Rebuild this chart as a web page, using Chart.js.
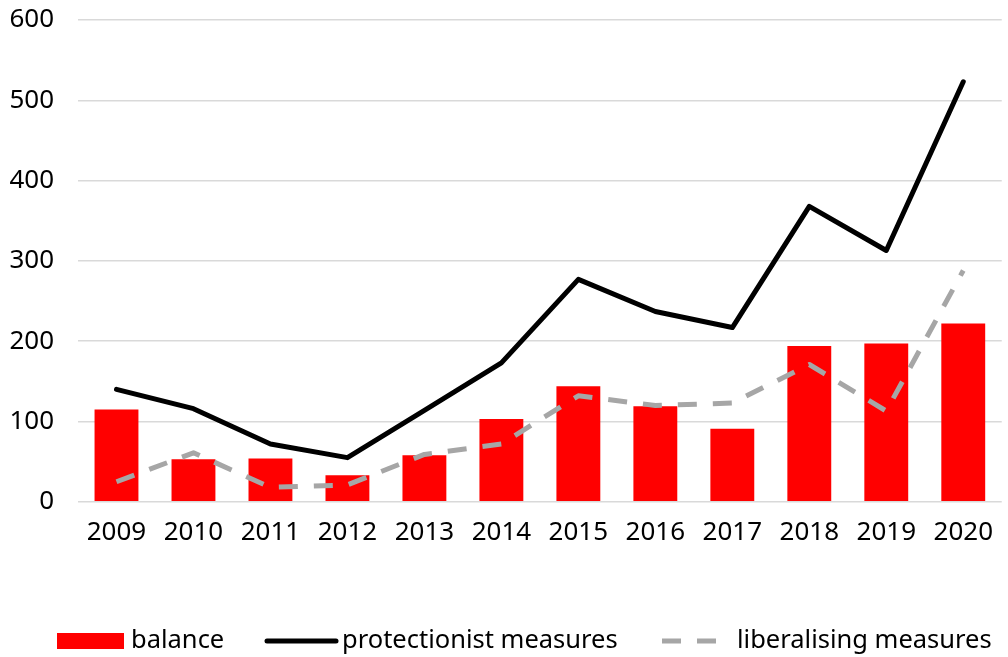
<!DOCTYPE html>
<html>
<head>
<meta charset="utf-8">
<script src="https://cdn.jsdelivr.net/npm/chart.js@4"></script>
<style>
  html, body { margin: 0; padding: 0; background: #ffffff; }
  #wrap { width: 1008px; height: 657px; }
</style>
</head>
<body>
<div id="wrap"><canvas id="chart" width="1008" height="657"></canvas></div>
<script>
// Trade measures per year
const years = ['2009', '2010', '2011', '2012', '2013', '2014', '2015', '2016', '2017', '2018', '2019', '2020'];
const balance = [115, 53, 54, 33, 58, 103, 144, 119, 91, 194, 197, 222];
const protectionist = [140, 116, 72, 55, 114, 173, 277, 237, 217, 368, 313, 523];
const liberalising = [25, 61, 18, 21, 59, 72, 132, 120, 123, 171, 113, 288];
const yTicks = [0, 100, 200, 300, 400, 500, 600];

const FONT = '"Noto Sans", "DejaVu Sans", sans-serif';

// Legend drawn under the plot: one entry per dataset
const legendPlugin = {
  id: 'bottomLegend',
  afterDraw(chart) {
    const ctx = chart.ctx;
    const ds = chart.data.datasets;
    const y = 641;
    ctx.save();
    ctx.font = '25.5px ' + FONT;
    ctx.fillStyle = '#000000';
    ctx.textBaseline = 'middle';
    ctx.textAlign = 'left';

    // balance: filled box
    ctx.fillStyle = ds[2].backgroundColor;
    ctx.fillRect(57, y - 8, 67, 16);
    ctx.fillStyle = '#000000';
    ctx.fillText(ds[2].label, 131, y);

    // protectionist: solid line
    ctx.strokeStyle = ds[0].borderColor;
    ctx.lineWidth = ds[0].borderWidth;
    ctx.setLineDash([]);
    ctx.lineCap = 'round';
    ctx.beginPath();
    ctx.moveTo(267, y);
    ctx.lineTo(336, y);
    ctx.stroke();
    ctx.fillText(ds[0].label, 342, y);

    // liberalising: dashed line
    ctx.strokeStyle = ds[1].borderColor;
    ctx.lineWidth = ds[1].borderWidth;
    ctx.lineCap = 'butt';
    ctx.setLineDash(ds[1].borderDash);
    ctx.beginPath();
    ctx.moveTo(662, y);
    ctx.lineTo(718, y);
    ctx.stroke();
    ctx.setLineDash([]);
    ctx.fillText(ds[1].label, 737, y);
    ctx.restore();
  }
};

new Chart(document.getElementById('chart'), {
  type: 'bar',
  data: {
    labels: years,
    datasets: [
      {
        type: 'line',
        label: 'protectionist measures',
        data: protectionist,
        borderColor: '#000000',
        backgroundColor: '#000000',
        borderWidth: 5,
        pointRadius: 0,
        tension: 0,
        borderJoinStyle: 'round',
        borderCapStyle: 'round',
        order: 1
      },
      {
        type: 'line',
        label: 'liberalising measures',
        data: liberalising,
        borderColor: '#a6a6a6',
        backgroundColor: '#a6a6a6',
        borderWidth: 5,
        borderDash: [19, 16],
        pointRadius: 0,
        tension: 0,
        borderJoinStyle: 'round',
        borderCapStyle: 'butt',
        order: 2
      },
      {
        type: 'bar',
        label: 'balance',
        data: balance,
        backgroundColor: '#ff0000',
        borderWidth: 0,
        barPercentage: 0.57,
        categoryPercentage: 1.0,
        order: 3
      }
    ]
  },
  options: {
    responsive: false,
    animation: false,
    devicePixelRatio: 1,
    layout: { padding: { left: 8, right: 0, top: 20, bottom: 94 } },
    plugins: {
      legend: { display: false },
      tooltip: { enabled: false }
    },
    scales: {
      x: {
        grid: { display: false, drawTicks: false },
        border: { display: false },
        ticks: {
          color: '#000000',
          font: { family: FONT, size: 26 },
          padding: 15,
          maxRotation: 0,
          autoSkip: false
        }
      },
      y: {
        min: 0,
        max: 600,
        afterBuildTicks(scale) {
          scale.ticks = yTicks.map(v => ({ value: v }));
        },
        afterFit(scale) {
          scale.width = 70;
          scale.paddingTop = 0;
          scale.paddingBottom = 0;
        },
        grid: { color: '#d9d9d9', lineWidth: 1.5, drawTicks: false },
        border: { display: false },
        ticks: {
          color: '#000000',
          font: { family: FONT, size: 26 },
          padding: 24
        }
      }
    }
  },
  plugins: [legendPlugin]
});
</script>
</body>
</html>
